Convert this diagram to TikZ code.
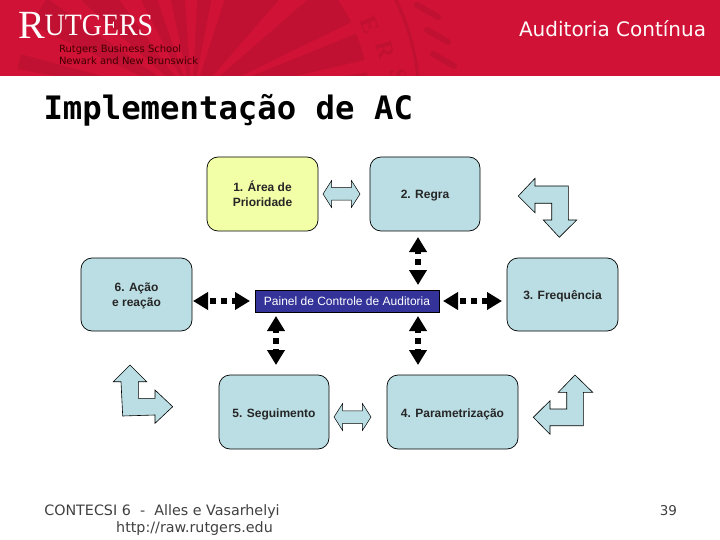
\documentclass[tikz,border=0pt]{standalone}
\usepackage{fontspec}
\setmainfont{Liberation Sans}
\newfontfamily\vdfont{DejaVu Sans}
\newfontfamily\vdmono{DejaVu Sans Mono}
\newfontfamily\rufont{Liberation Serif}
\usetikzlibrary{arrows.meta,shapes.arrows}
\definecolor{rubar}{HTML}{D01236}
\definecolor{rudark}{HTML}{C01132}
\definecolor{boxblue}{HTML}{BADEE3}
\definecolor{boxyel}{HTML}{F2FFA6}
\definecolor{panelblue}{HTML}{333399}
\definecolor{footgray}{HTML}{404040}

\begin{document}
\begin{tikzpicture}[
  x = 1pt, y = -1pt,
  every node/.style = {align=center, inner sep=0pt, outer sep=0pt},
  stepbox/.style  = {draw=black, line width=0.7pt, rounded corners=11pt, fill=boxblue,
                     font=\fontsize{12}{15}\selectfont\bfseries, text=black!85},
  panelbox/.style = {draw=black, line width=0.7pt, fill=panelblue, text=white,
                     font=\fontsize{12}{15}\selectfont},
  dbl/.style      = {double arrow, draw=black, line width=0.5pt, fill=boxblue,
                     text height=12pt, text depth=0pt, minimum width=22pt, minimum height=37pt,
                     double arrow tip angle=115},
  bent/.style     = {draw=black, line width=0.6pt, fill=boxblue},
  link/.style     = {{Triangle[length=15pt,width=17pt]}-{Triangle[length=15pt,width=17pt]},
                     line width=6pt, dash pattern=on 6pt off 5pt, dash phase=8pt},
  uplink/.style   = {link, dash phase=3pt},
  scallop/.style  = {rudark, line width=6pt, line cap=round},
  sealtxt/.style  = {text=rudark, font=\rufont\bfseries\fontsize{24}{24}\selectfont},
]

% Header band with the seal
\fill[rubar] (0,0) rectangle (720,76);
\begin{scope}
  \clip (0,0) rectangle (720,76);
  \fill[rudark] (192,100) circle[radius=177];
  \begin{scope}[shift={(192,100)}]
    \foreach \angA/\angB in {-49/-41,-26/-22,-13/-9,-79/-72,-94/-87,-109/-102,
                             -126/-117,-145/-138,-165/-155,-178/-170}
      \fill[rubar] (0,0) -- (\angA:180) -- (\angB:180) -- cycle;
    \draw[rudark, line width=3pt] (0,0) circle[radius=227];
  \end{scope}
  \node[sealtxt, rotate=-68] (sealE) at (370,25) {E};
  \node[sealtxt, rotate=-75] (sealR) at (385,50) {R};
  \node[sealtxt, rotate=-80] (sealS) at (398,76) {S};
  \draw[scallop] (417,5) -- (438,17);
  \draw[scallop] (427,30) -- (448,42);
  \draw[scallop] (433,54) -- (454,66);
\end{scope}

% Logo and header texts
\node[anchor=base west, text=white!95!pink, font=\rufont] (logo) at (19,36)
  {\fontsize{40}{40}\selectfont\raisebox{-3pt}{R}\kern-1pt\scalebox{0.9}[1]{\fontsize{31}{31}\selectfont UTGERS}};
\node[anchor=west, align=left, text=black!75!red, font=\vdfont\fontsize{10}{12.3}\selectfont] (school) at (59,55) {Rutgers Business School\\Newark and New Brunswick};
\node[anchor=east, text=white!92!pink, font=\vdfont\fontsize{20}{24}\selectfont] (topic) at (706,29) {Auditoria Contínua};

% Title
\node[anchor=base west, font=\vdmono\bfseries\fontsize{32.3}{36}\selectfont] (title) at (43.5,120) {Implementação de AC};

% Boxes
\node[stepbox, fill=boxyel, minimum width=111pt, minimum height=74pt, text height=25pt] (area) at (262.5,194) {1. Área de\\Prioridade};
\node[stepbox, minimum width=110pt, minimum height=74pt, text height=12pt] (regra) at (425,194) {2. Regra};
\node[stepbox, minimum width=111pt, minimum height=73pt, text height=26pt] (acao) at (136.5,294.5) {6. Ação\\e reação};
\node[stepbox, minimum width=111pt, minimum height=73pt, text height=12pt] (freq) at (562.5,294.5) {3. Frequência};
\node[stepbox, minimum width=110pt, minimum height=74pt, text height=14pt] (segui) at (274,412) {5. Seguimento};
\node[stepbox, minimum width=131pt, minimum height=74pt, text height=13pt] (param) at (452.5,412) {4. Parametrização};
\node[panelbox, minimum width=184pt, minimum height=22pt] (painel) at (347,301) {Painel de Controle de Auditoria};

% Light double arrows between boxes
\node[dbl] (arAB) at (341.5,194) {};
\node[dbl] (arEF) at (352.5,417) {};

% Dashed links to the panel
\draw[link, shorten <=1pt, shorten >=5pt] (acao.east |- painel) -- (painel.west);
\draw[link, shorten <=4pt, shorten >=5pt] (painel.east) -- (freq.west |- painel);
\draw[uplink, shorten <=6pt, shorten >=5pt] (regra.south -| 418,0) -- (painel.north -| 418,0);
\draw[uplink, shorten <=4pt, shorten >=10pt] (painel.south -| 418,0) -- (param.north -| 418,0);
\draw[uplink, shorten <=4pt, shorten >=10pt] (painel.south -| 276,0) -- (segui.north -| 276,0);

% Bent arrows
\draw[bent] (518.3,196) -- (535,178.3) -- (535,186) -- (568.3,186) -- (568.3,220) -- (576.7,220)
  -- (559.3,237.3) -- (543.3,220) -- (551.7,220) -- (551.7,203.3) -- (535,203.3) -- (535,212.7) -- cycle;
\draw[bent] (130,365) -- (146.7,381.7) -- (138.3,381.7) -- (138.3,398.3) -- (155,398.3) -- (155,390)
  -- (172.7,406.7) -- (155,423.3) -- (155,415) -- (122.7,416) -- (121,381.7) -- (113.3,381.7) -- cycle;
\draw[bent] (575,375) -- (592.7,392.3) -- (583.3,392.3) -- (583.3,425.7) -- (550,425.7) -- (550,434.3)
  -- (533.3,417.3) -- (550,400.7) -- (550,409) -- (566.7,409) -- (566.7,392.3) -- (558.3,392.3) -- cycle;

% Footer
\node[anchor=base, text=footgray, font=\vdfont\fontsize{14.3}{17}\selectfont] (foot) at (162,515) {CONTECSI 6~ -~ Alles e Vasarhelyi};
\node[anchor=base, text=footgray, font=\vdfont\fontsize{14.3}{17}\selectfont] (url) at (194.5,532) {http://raw.rutgers.edu};
\node[anchor=base east, text=footgray, font=\vdfont\fontsize{13.5}{17}\selectfont] (pagenum) at (677,515) {39};

\useasboundingbox (0,0) rectangle (720,540);
\end{tikzpicture}
\end{document}
